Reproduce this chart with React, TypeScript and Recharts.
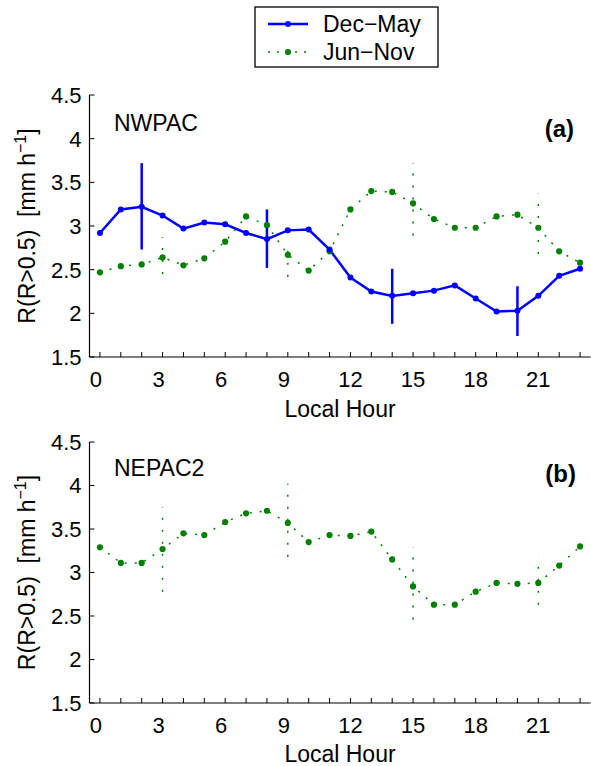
import React from 'react';
import { ComposedChart, Line, XAxis, YAxis, ErrorBar } from 'recharts';

// ---------- data ----------
const HOURS = [0, 1, 2, 3, 4, 5, 6, 7, 8, 9, 10, 11, 12, 13, 14, 15, 16, 17, 18, 19, 20, 21, 22, 23];
const X_LABELLED = [0, 3, 6, 9, 12, 15, 18, 21];
const Y_TICKS = [1.5, 2, 2.5, 3, 3.5, 4, 4.5];
const Y_TICK_LABELS = ['1.5', '2', '2.5', '3', '3.5', '4', '4.5'];

const SERIES_NAMES = ['Dec\u2212May', 'Jun\u2212Nov'];
const PANEL_NAMES = ['NWPAC', 'NEPAC2'];
const PANEL_TAGS = ['(a)', '(b)'];

// panel (a) NWPAC
const decMayA = [2.92, 3.19, 3.22, 3.12, 2.97, 3.04, 3.02, 2.92, 2.85, 2.95, 2.96, 2.73, 2.41, 2.25, 2.20, 2.23, 2.26, 2.32, 2.17, 2.02, 2.03, 2.20, 2.43, 2.51];
const junNovA = [2.47, 2.54, 2.56, 2.64, 2.55, 2.63, 2.82, 3.11, 3.01, 2.67, 2.49, 2.71, 3.19, 3.40, 3.39, 3.26, 3.08, 2.98, 2.98, 3.11, 3.13, 2.98, 2.71, 2.58];
const decMayErrHoursA = [2, 8, 14, 20];
const decMayErrLowA = [0.49, 0.33, 0.32, 0.29];
const decMayErrHighA = [0.50, 0.34, 0.31, 0.28];
const junNovErrHoursA = [3, 9, 15, 21];
const junNovErrLowA = [0.19, 0.25, 0.37, 0.30];
const junNovErrHighA = [0.23, 0.16, 0.46, 0.39];

// panel (b) NEPAC2
const junNovB = [3.29, 3.11, 3.11, 3.27, 3.45, 3.43, 3.58, 3.68, 3.71, 3.57, 3.35, 3.43, 3.42, 3.47, 3.15, 2.84, 2.63, 2.63, 2.78, 2.88, 2.87, 2.88, 3.08, 3.30];
const junNovErrHoursB = [3, 9, 15, 21];
const junNovErrLowB = [0.49, 0.39, 0.38, 0.25];
const junNovErrHighB = [0.48, 0.45, 0.45, 0.30];

// ---------- helpers ----------
const FONT = "'Liberation Sans', Arial, Helvetica, sans-serif";
const BLUE = '#0000ff';
const GREEN = '#008000';

function errAt(hours: number[], low: number[], high: number[], h: number) {
  const i = hours.indexOf(h);
  return i < 0 ? null : [low[i], high[i]];
}

const dataA = HOURS.map((h, i) => ({
  hour: h,
  dm: decMayA[i],
  jn: junNovA[i],
  dmErr: errAt(decMayErrHoursA, decMayErrLowA, decMayErrHighA, h),
  jnErr: errAt(junNovErrHoursA, junNovErrLowA, junNovErrHighA, h),
}));

const dataB = HOURS.map((h, i) => ({
  hour: h,
  jn: junNovB[i],
  jnErr: errAt(junNovErrHoursB, junNovErrLowB, junNovErrHighB, h),
}));

const BottomTick = (props: any) => {
  const { x, y, payload } = props;
  const v = payload.value;
  const lab = X_LABELLED.indexOf(v) >= 0 ? String(v) : null;
  return (
    <g>
      <line x1={x} y1={y} x2={x} y2={y - 5} stroke="#000" strokeWidth={1} />
      {lab !== null && (
        <text x={x - (lab.length === 1 ? 4 : 0)} y={y + 30} textAnchor="middle" fontSize={22} fontFamily={FONT} fill="#000">
          {lab}
        </text>
      )}
    </g>
  );
};

const TopTick = (props: any) => {
  const { x, y } = props;
  return <line x1={x} y1={y} x2={x} y2={y + 5} stroke="#000" strokeWidth={1} />;
};

const LeftTick = (props: any) => {
  const { x, y, payload } = props;
  const i = Y_TICKS.indexOf(payload.value);
  return (
    <g>
      <line x1={x} y1={y} x2={x + 5} y2={y} stroke="#000" strokeWidth={1} />
      <text x={x - 8} y={y} dy="0.36em" textAnchor="end" fontSize={22} fontFamily={FONT} fill="#000">
        {i >= 0 ? Y_TICK_LABELS[i] : payload.value}
      </text>
    </g>
  );
};

const RightTick = (props: any) => {
  const { x, y } = props;
  return <line x1={x} y1={y} x2={x - 5} y2={y} stroke="#000" strokeWidth={1} />;
};

const W = 591;

function renderAxes(bottomHeight: number) {
  return [
    <XAxis key="xb" xAxisId="b" dataKey="hour" type="number" domain={[-0.5, 23.5]} ticks={HOURS} interval={0}
      tickLine={false} tickSize={0} tickMargin={0} tick={<BottomTick />} axisLine={{ stroke: '#000', strokeWidth: 1.2 }}
      allowDataOverflow orientation="bottom" height={bottomHeight} />,
    <XAxis key="xt" xAxisId="t" dataKey="hour" type="number" domain={[-0.5, 23.5]} ticks={HOURS} interval={0}
      tickLine={false} tickSize={0} tickMargin={0} tick={<TopTick />} axisLine={{ stroke: '#000', strokeWidth: 1.2 }}
      allowDataOverflow orientation="top" height={0} />,
    <YAxis key="yl" yAxisId="l" type="number" domain={[1.5, 4.5]} ticks={Y_TICKS} interval={0}
      tickLine={false} tickSize={0} tickMargin={0} tick={<LeftTick />} axisLine={{ stroke: '#000', strokeWidth: 1.2 }}
      allowDataOverflow width={89.5} orientation="left" />,
    <YAxis key="yr" yAxisId="r" type="number" domain={[1.5, 4.5]} ticks={Y_TICKS} interval={0}
      tickLine={false} tickSize={0} tickMargin={0} tick={<RightTick />} axisLine={{ stroke: '#000', strokeWidth: 1.2 }}
      allowDataOverflow width={0} orientation="right" />,
  ];
}

const greenLineProps = {
  stroke: GREEN,
  strokeWidth: 1.5,
  strokeDasharray: '2 8',
  dot: { r: 3.1, fill: GREEN, stroke: GREEN, strokeWidth: 0, strokeDasharray: '' },
  activeDot: false as const,
  isAnimationActive: false,
};

function YTitle({ cx, cy }: { cx: number; cy: number }) {
  return (
    <text transform={`translate(${cx},${cy}) rotate(-90)`} textAnchor="middle" fontSize={23} fontFamily={FONT} fill="#000" style={{ whiteSpace: 'pre' }}>
      {'R(R>0.5)  [mm h'}
      <tspan dy={-9} fontSize={16}>{'\u22121'}</tspan>
      <tspan dy={9}>{']'}</tspan>
    </text>
  );
}

export default function App() {
  return (
    <div style={{ position: 'absolute', left: 0, top: 0, width: W, height: 766, background: '#fff', fontFamily: FONT }}>
      <div style={{ position: 'absolute', left: 0, top: 0 }}>
        <ComposedChart width={W} height={425} data={dataA} margin={{ top: 95, right: 0.5, bottom: 0, left: 0 }}>
          {renderAxes(68)}
          <Line xAxisId="b" yAxisId="l" dataKey="jn" {...greenLineProps}>
            <ErrorBar dataKey="jnErr" width={0} stroke={GREEN} strokeWidth={1.5} strokeDasharray="2 10" direction="y" />
          </Line>
          <Line xAxisId="b" yAxisId="l" dataKey="dm" stroke={BLUE} strokeWidth={2.5}
            dot={{ r: 3, fill: BLUE, stroke: BLUE, strokeWidth: 0 }} activeDot={false} isAnimationActive={false}>
            <ErrorBar dataKey="dmErr" width={0} stroke={BLUE} strokeWidth={2.5} direction="y" />
          </Line>
        </ComposedChart>
      </div>
      <div style={{ position: 'absolute', left: 0, top: 420 }}>
        <ComposedChart width={W} height={346} data={dataB} margin={{ top: 22, right: 0.5, bottom: 0, left: 0 }}>
          {renderAxes(63)}
          <Line xAxisId="b" yAxisId="l" dataKey="jn" {...greenLineProps}>
            <ErrorBar dataKey="jnErr" width={0} stroke={GREEN} strokeWidth={1.5} strokeDasharray="2 10" direction="y" />
          </Line>
        </ComposedChart>
      </div>
      <svg width={W} height={766} style={{ position: 'absolute', left: 0, top: 0, pointerEvents: 'none' }}>
        {/* legend */}
        <rect x={255} y={7} width={183} height={60} fill="#fff" stroke="#000" strokeWidth={1.3} />
        <line x1={268} y1={24} x2={308} y2={24} stroke={BLUE} strokeWidth={2.5} />
        <circle cx={288} cy={24} r={3} fill={BLUE} />
        <text x={323} y={31.5} fontSize={23} fontFamily={FONT} fill="#000">{SERIES_NAMES[0]}</text>
        <line x1={268} y1={52} x2={308} y2={52} stroke={GREEN} strokeWidth={1.5} strokeDasharray="2 7" />
        <circle cx={288} cy={52} r={3.1} fill={GREEN} />
        <text x={323} y={59.5} fontSize={23} fontFamily={FONT} fill="#000">{SERIES_NAMES[1]}</text>

        {/* panel names */}
        <text x={114} y={131} fontSize={23} fontFamily={FONT} fill="#000">{PANEL_NAMES[0]}</text>
        <text x={574} y={136.5} textAnchor="end" fontSize={24} fontWeight="bold" fontFamily={FONT} fill="#000">{PANEL_TAGS[0]}</text>
        <text x={114} y={476} fontSize={23} fontFamily={FONT} fill="#000">{PANEL_NAMES[1]}</text>
        <text x={576} y={482} textAnchor="end" fontSize={24} fontWeight="bold" fontFamily={FONT} fill="#000">{PANEL_TAGS[1]}</text>

        {/* axis titles */}
        <text x={340} y={416.5} textAnchor="middle" fontSize={23} fontFamily={FONT} fill="#000">Local Hour</text>
        <text x={340} y={762} textAnchor="middle" fontSize={23} fontFamily={FONT} fill="#000">Local Hour</text>
        <YTitle cx={35} cy={226} />
        <YTitle cx={35} cy={572.5} />
      </svg>
    </div>
  );
}
